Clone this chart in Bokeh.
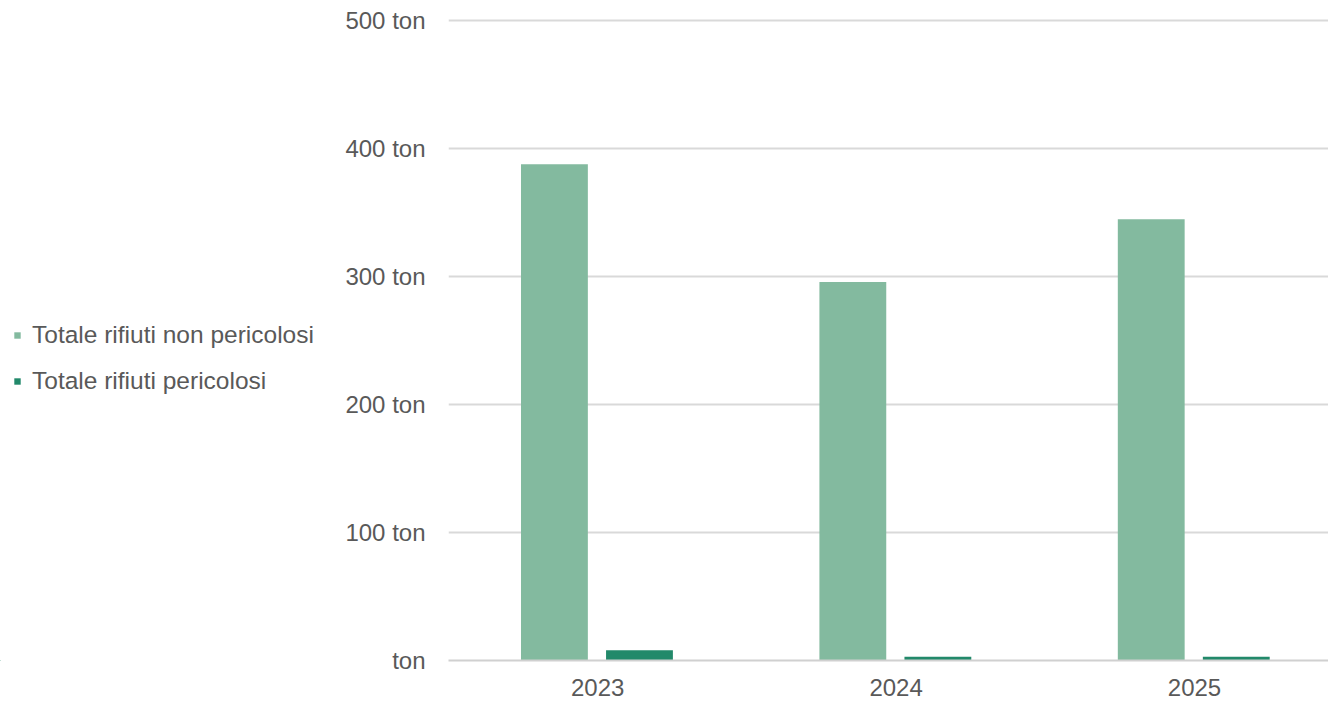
from bokeh.plotting import figure
from bokeh.layouts import row
from bokeh.models import ColumnDataSource, Range1d, Legend, LegendItem, FixedTicker
from bokeh.embed import file_html
from bokeh.resources import INLINE

# Waste totals per year (tonnes)
years = ["2023", "2024", "2025"]
non_hazardous = [388, 296, 345]
hazardous = [8, 3, 3]
series_names = ["Totale rifiuti non pericolosi", "Totale rifiuti pericolosi"]
y_ticks = [0, 100, 200, 300, 400, 500]
y_tick_labels = ["ton", "100 ton", "200 ton", "300 ton", "400 ton", "500 ton"]

LIGHT = "#83BA9F"
DARK = "#22896A"
TEXT = "#595959"
FONT = "Liberation Sans"
FS = "24px"

LEGEND_W = 330
H = 704

pos = [i + 0.5 for i in range(len(years))]
src = ColumnDataSource(dict(
    x1=[p - 0.145 for p in pos],
    x2=[p + 0.140 for p in pos],
    nh=non_hazardous,
    hz=hazardous,
))

# ---- chart -------------------------------------------------------------
p = figure(width=1328 - LEGEND_W, height=H, output_backend="svg",
           toolbar_location=None,
           x_range=Range1d(0, 880 / 298.4), y_range=Range1d(0, 503.5),
           min_border_left=448 - LEGEND_W, min_border_right=0,
           min_border_top=16, min_border_bottom=44)
p.outline_line_color = None
p.background_fill_color = "white"
p.border_fill_color = "white"

p.vbar(x="x1", top="nh", width=0.224, source=src, fill_color=LIGHT,
       line_color=None)
p.vbar(x="x2", top="hz", width=0.224, source=src, fill_color=DARK,
       line_color=None)

p.yaxis.ticker = FixedTicker(ticks=y_ticks)
p.yaxis.major_label_overrides = {t: l for t, l in zip(y_ticks, y_tick_labels)}
p.yaxis.axis_line_color = None
p.yaxis.major_tick_line_color = None
p.yaxis.minor_tick_line_color = None
p.yaxis.major_label_standoff = 17
p.yaxis.major_label_text_font = FONT
p.yaxis.major_label_text_font_size = FS
p.yaxis.major_label_text_color = TEXT
p.ygrid.grid_line_color = "#D9D9D9"
p.ygrid.grid_line_width = 2
p.xgrid.grid_line_color = None

p.xaxis.ticker = FixedTicker(ticks=pos)
p.xaxis.major_label_overrides = {pv: y for pv, y in zip(pos, years)}
p.xaxis.axis_line_color = "#D0D0D0"
p.xaxis.axis_line_width = 2
p.xaxis.major_tick_line_color = None
p.xaxis.minor_tick_line_color = None
p.xaxis.major_label_standoff = 12
p.xaxis.major_label_text_font = FONT
p.xaxis.major_label_text_font_size = FS
p.xaxis.major_label_text_color = TEXT

# ---- legend panel on the left -------------------------------------------
# The key renderers share the series styling; this panel's ranges lie far
# away from the data, so only the legend entries are visible here.
lg = figure(width=LEGEND_W, height=H, output_backend="svg",
            toolbar_location=None, x_range=Range1d(10, 11),
            y_range=Range1d(1000, 1001), min_border=0)
lg.outline_line_color = None
lg.axis.visible = False
lg.grid.visible = False
lg.border_fill_color = "white"

k1 = lg.vbar(x="x1", top="nh", width=0.224, source=src, fill_color=LIGHT,
             line_color=None)
k2 = lg.vbar(x="x2", top="hz", width=0.224, source=src, fill_color=DARK,
             line_color=None)

legend = Legend(items=[
    LegendItem(label=series_names[0], renderers=[k1]),
    LegendItem(label=series_names[1], renderers=[k2]),
], location=(13, 264), orientation="vertical")
legend.padding = 0
legend.margin = 0
legend.spacing = 16
legend.label_height = 30
legend.glyph_width = 8
legend.glyph_height = 8
legend.label_standoff = 11
legend.label_text_font = FONT
legend.label_text_font_size = "24.5px"
legend.label_text_color = TEXT
legend.border_line_color = None
legend.background_fill_alpha = 0
lg.add_layout(legend, "center")

open("out.html", "w").write(file_html(row(lg, p, spacing=0), INLINE))
